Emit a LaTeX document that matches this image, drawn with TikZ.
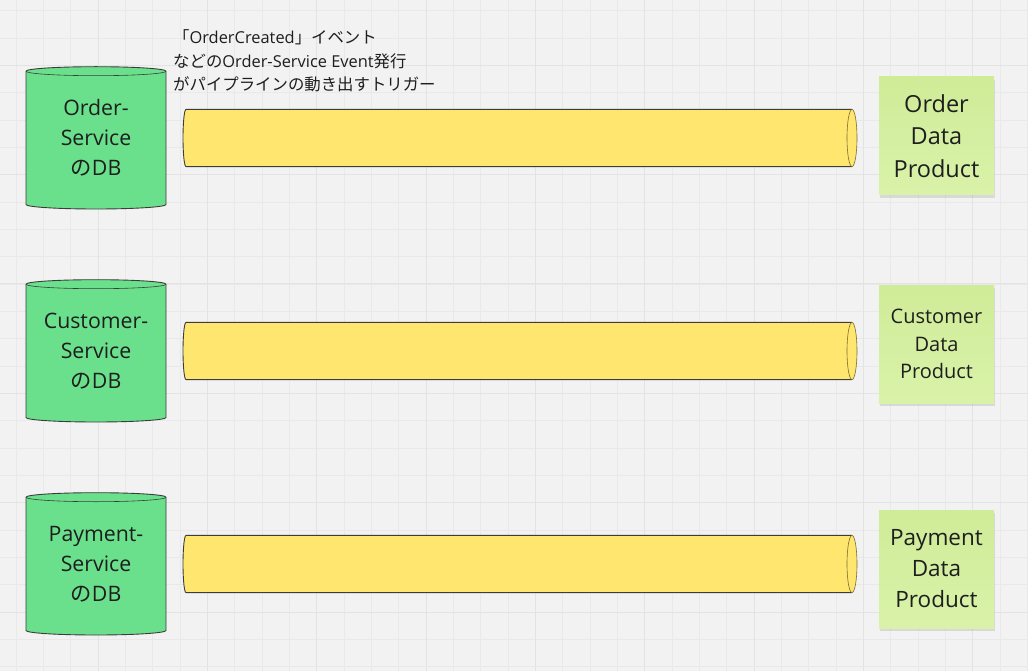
\documentclass[tikz,border=0pt]{standalone}
\usepackage{fontspec}
\setmainfont{Open Sans}
\newfontfamily\jp{Noto Sans CJK JP}
\usetikzlibrary{shadows}

\definecolor{canvasgray}{HTML}{F2F2F2}
\definecolor{gridminor}{HTML}{E9E9E9}
\definecolor{gridmajor}{HTML}{E3E3E3}
\definecolor{dbgreen}{HTML}{6AE08C}
\definecolor{pipeyellow}{HTML}{FFE66E}
\definecolor{pipeedge}{HTML}{7A6C30}
\definecolor{stickytop}{HTML}{CFEC98}
\definecolor{stickybottom}{HTML}{D9F2A9}
\definecolor{inkgray}{HTML}{3C3C3C}
\definecolor{inkdark}{HTML}{1E1E1E}

\begin{document}
\begin{tikzpicture}[x=1pt,y=-1pt]
\tikzstyle{gridthin}=[draw=gridminor,line width=0.8pt]
\tikzstyle{gridthick}=[draw=gridmajor,line width=1pt]
\tikzstyle{dbbody}=[fill=dbgreen,draw=inkgray,line width=0.9pt]
\tikzstyle{pipebody}=[fill=pipeyellow,draw=inkgray,line width=0.9pt]
\tikzstyle{pipeend}=[fill=pipeyellow,draw=pipeedge,line width=0.6pt]
\tikzstyle{sticky}=[minimum width=115pt,minimum height=118pt,inner sep=0pt,top color=stickytop,bottom color=stickybottom,drop shadow={shadow xshift=1pt,shadow yshift=-3pt,fill=black,opacity=0.1},align=center,text=inkdark]
\tikzstyle{dblabel}=[align=center,inner sep=0pt,text=inkdark,font=\fontsize{21.3}{30}\selectfont]

\fill[canvasgray] (0,0) rectangle (1028,671);
\useasboundingbox (0,0) rectangle (1028,671);

% board grid
\foreach \k in {0,...,37} \draw[gridthin] ({16+27.333*\k},0) -- ++(0,671);
\foreach \k in {0,...,24} \draw[gridthin] (0,{10.667+27.333*\k}) -- ++(1028,0);
\foreach \k in {0,...,9} \draw[gridthick] ({-11.333+109.333*\k},0) -- ++(0,671);
\foreach \k in {0,...,5} \draw[gridthick] (0,{65.333+109.333*\k}) -- ++(1028,0);

% DB cylinders and pipelines, one row each
\foreach \cy in {138,351,564}{
  \filldraw[dbbody] (26,{\cy-66.8}) -- (26,{\cy+66.5}) arc[start angle=180,end angle=360,x radius=70pt,y radius=4.5pt]
     -- (166,{\cy-66.8}) arc[start angle=0,end angle=180,x radius=70pt,y radius=4.5pt] -- cycle;
  \draw[inkgray,line width=0.6pt] (26,{\cy-66.8}) arc[start angle=180,end angle=360,x radius=70pt,y radius=4.5pt];
  \filldraw[pipebody] (852,{\cy-28.6}) -- (186,{\cy-28.6}) arc[start angle=90,end angle=270,x radius=3pt,y radius=28.6pt] -- (852,{\cy+28.6});
  \filldraw[pipeend] (852,\cy) ellipse[x radius=5pt,y radius=28.6pt];
}

\node (orderdb) [dblabel] at (96,138) {Order-\\Service\\{\jp の}DB};
\node (customerdb) [dblabel] at (96,351) {Customer-\\Service\\{\jp の}DB};
\node (paymentdb) [dblabel] at (96,564) {Payment-\\Service\\{\jp の}DB};

\node (orderdp) [sticky,font=\fontsize{23.5}{32.5}\selectfont] at (936.5,136) {Order\\Data\\Product};
\node (customerdp) [sticky,font=\fontsize{20}{27.5}\selectfont] at (936.5,344) {Customer\\Data\\Product};
\node (paymentdp) [sticky,font=\fontsize{22.5}{31}\selectfont] at (936.5,569) {Payment\\Data\\Product};

\node (triggernote) [anchor=west,align=left,inner sep=0pt,text=inkdark,font=\fontsize{16.4}{23.5}\selectfont] at (173,61)
  {{\jp 「}OrderCreated{\jp 」イベント}\\{\jp などの}Order-Service Event{\jp 発行}\\{\jp がパイプラインの動き出すトリガー}};
\end{tikzpicture}
\end{document}
